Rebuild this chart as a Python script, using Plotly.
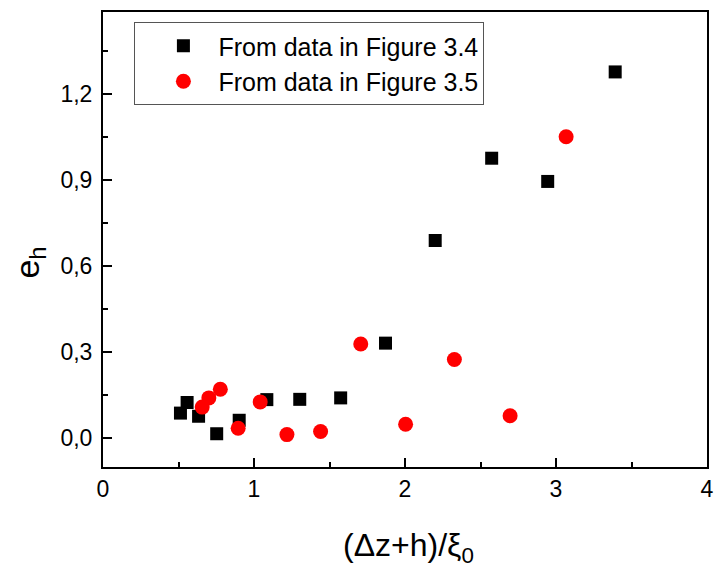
import plotly.graph_objects as go

# Series
fig34_x = [0.513, 0.557, 0.633, 0.753, 0.902, 1.085, 1.303, 1.574, 1.871, 2.200, 2.574, 2.945, 3.392]
fig34_y = [0.088, 0.125, 0.077, 0.016, 0.063, 0.135, 0.136, 0.141, 0.332, 0.690, 0.977, 0.896, 1.278]

fig35_x = [0.657, 0.701, 0.777, 0.895, 1.041, 1.218, 1.441, 1.707, 2.004, 2.327, 2.696, 3.067]
fig35_y = [0.109, 0.141, 0.171, 0.035, 0.127, 0.013, 0.024, 0.329, 0.049, 0.275, 0.079, 1.052]

x_ticks = [0, 1, 2, 3, 4]
y_ticks = [0.0, 0.3, 0.6, 0.9, 1.2]

FONT = "Liberation Sans, Arial, sans-serif"

fig = go.Figure()
fig.add_trace(go.Scatter(
    x=fig34_x, y=fig34_y, mode="markers", name="From data in Figure 3.4",
    marker=dict(symbol="square", size=13, color="black", line=dict(width=0)),
))
fig.add_trace(go.Scatter(
    x=fig35_x, y=fig35_y, mode="markers", name="From data in Figure 3.5",
    marker=dict(symbol="circle", size=15, color="#ff0000", line=dict(width=0)),
))

axis_common = dict(
    showline=True, linecolor="black", linewidth=2, mirror=True,
    ticks="inside", ticklen=9, tickwidth=2, tickcolor="black",
    showgrid=False, zeroline=False,
    tickfont=dict(family=FONT, size=23, color="black"),
)

fig.update_xaxes(
    range=[0, 4], tickvals=x_ticks, ticktext=[str(v) for v in x_ticks],
    minor=dict(ticks="inside", ticklen=5, tickwidth=2, tickcolor="black", dtick=0.5),
    **axis_common,
)
fig.update_yaxes(
    range=[-0.1, 1.487], tickvals=y_ticks, ticktext=[f"{v:.1f}".replace(".", ",") for v in y_ticks],
    minor=dict(ticks="inside", ticklen=5, tickwidth=2, tickcolor="black", tick0=0, dtick=0.15),
    ticklabelstandoff=4,
    **axis_common,
)

fig.add_annotation(
    text="(Δz+h)/ξ<sub>0</sub>", xref="paper", yref="paper",
    x=0.505, y=-0.128, xanchor="center", yanchor="top", showarrow=False,
    font=dict(family=FONT, size=32, color="black"),
)
# rotated y-axis label, placed slightly below the vertical centre of the axes
fig.add_annotation(
    text="e<sub>h</sub>", xref="paper", yref="paper", textangle=-90,
    x=-0.122, y=0.45, xanchor="center", yanchor="middle", showarrow=False,
    font=dict(family=FONT, size=34, color="black"),
)

fig.update_layout(
    width=720, height=568,
    margin=dict(l=103, r=6, t=12, b=101),
    paper_bgcolor="white", plot_bgcolor="white",
    showlegend=True,
    legend=dict(
        x=0.052, y=0.978, xanchor="left", yanchor="top",
        bgcolor="white", bordercolor="#555555", borderwidth=1,
        font=dict(family=FONT, size=25, color="black"),
        indentation=13, itemwidth=60, tracegroupgap=0,
    ),
)

fig.write_html("out.html")
